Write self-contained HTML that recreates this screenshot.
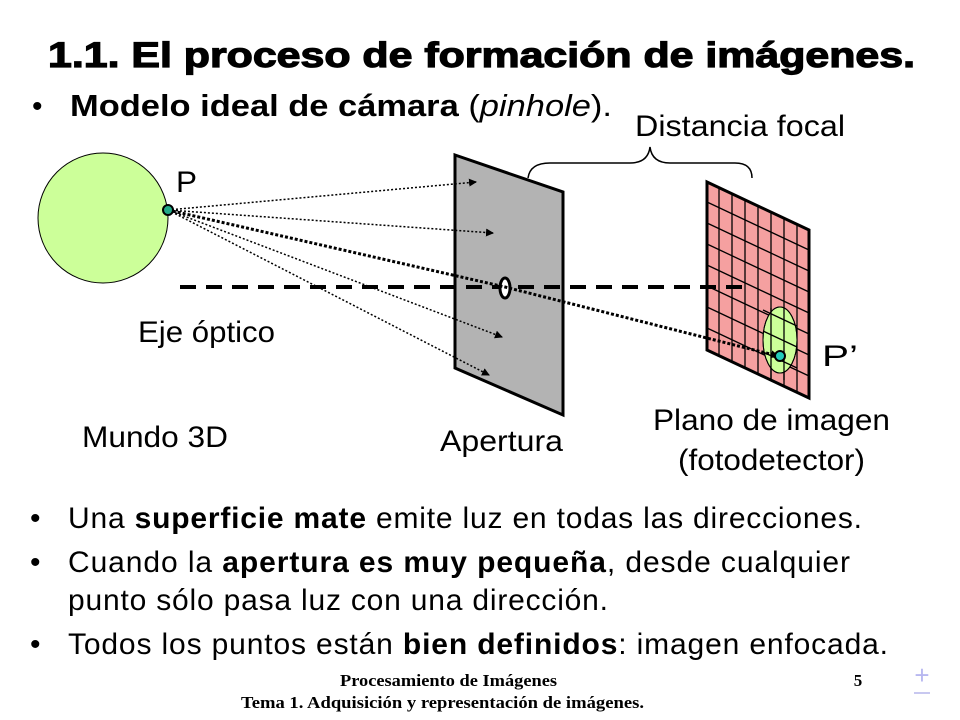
<!DOCTYPE html>
<html><head><meta charset="utf-8"><style>
html,body{margin:0;padding:0;background:#fff}
svg{display:block}
text{font-family:"Liberation Sans",sans-serif;fill:#000}
.s{font-family:"Liberation Serif",serif;font-weight:bold}
</style></head><body>
<svg width="960" height="720" viewBox="0 0 960 720" xmlns="http://www.w3.org/2000/svg">
<defs>
<marker id="a" markerWidth="8" markerHeight="8" refX="7" refY="4" orient="auto" markerUnits="userSpaceOnUse"><path d="M0,0 L8,4 L0,8 Z" fill="#000"/></marker>
<clipPath id="cp"><polygon points="707,182 809,230 809,398 707,350"/></clipPath>
</defs>
<text x="48" y="67" font-size="35" font-weight="bold" textLength="867" lengthAdjust="spacingAndGlyphs" stroke="#000" stroke-width="1.2">1.1. El proceso de formación de imágenes.</text>
<text x="32" y="116" font-size="30">•</text>
<text x="70" y="116" font-size="31" textLength="542" lengthAdjust="spacingAndGlyphs"><tspan font-weight="bold">Modelo ideal de cámara</tspan> (<tspan font-style="italic">pinhole</tspan>).</text>
<text x="635" y="136" font-size="30" textLength="210" lengthAdjust="spacingAndGlyphs">Distancia focal</text>
<path d="M528,178 Q530,163 550,163 L630,163 Q648,163 650,147 Q652,163 670,163 L735,163 Q752,163 752,178" fill="none" stroke="#000" stroke-width="1.5"/>
<circle cx="103" cy="218" r="65" fill="#ccff99" stroke="#000" stroke-width="1"/>
<text x="176" y="192" font-size="30" textLength="21" lengthAdjust="spacingAndGlyphs">P</text>
<polygon points="455,155 563,192 563,415 455,368" fill="#b3b3b3" stroke="#000" stroke-width="3"/>
<polygon points="707,182 809,230 809,398 707,350" fill="#f5a0a0"/>
<g clip-path="url(#cp)" stroke="#000" stroke-width="1.3">
<line x1="719" y1="150" x2="719" y2="420"/><line x1="732" y1="150" x2="732" y2="420"/><line x1="745" y1="150" x2="745" y2="420"/><line x1="758" y1="150" x2="758" y2="420"/><line x1="771" y1="150" x2="771" y2="420"/><line x1="784" y1="150" x2="784" y2="420"/><line x1="797" y1="150" x2="797" y2="420"/>
<line x1="707" y1="202" x2="809" y2="250"/><line x1="707" y1="223" x2="809" y2="271"/><line x1="707" y1="244" x2="809" y2="292"/><line x1="707" y1="265" x2="809" y2="313"/><line x1="707" y1="286" x2="809" y2="334"/><line x1="707" y1="307" x2="809" y2="355"/><line x1="707" y1="328" x2="809" y2="376"/>
</g>
<ellipse cx="780" cy="340" rx="17" ry="33" fill="#ccff99" stroke="#000" stroke-width="1"/>
<g clip-path="url(#cp)" stroke="#000" stroke-width="1.3"><line x1="771" y1="308" x2="771" y2="380"/><line x1="784" y1="308" x2="784" y2="380"/><line x1="763" y1="310" x2="797" y2="326"/><line x1="763" y1="331" x2="797" y2="347"/><line x1="763" y1="352" x2="797" y2="368"/></g>
<ellipse cx="780" cy="340" rx="17" ry="33" fill="none" stroke="#000" stroke-width="1"/>
<polygon points="707,182 809,230 809,398 707,350" fill="none" stroke="#000" stroke-width="3"/>
<line x1="180" y1="287" x2="750" y2="287" stroke="#000" stroke-width="4" stroke-dasharray="16,10"/>
<ellipse cx="505" cy="288" rx="5" ry="10" fill="#fff" stroke="#000" stroke-width="3"/>
<g stroke="#000" stroke-width="1.5" stroke-dasharray="2,2" fill="none">
<line x1="168" y1="210" x2="476" y2="182" marker-end="url(#a)"/>
<line x1="168" y1="210" x2="493" y2="233" marker-end="url(#a)"/>
<line x1="168" y1="210" x2="502" y2="337" marker-end="url(#a)"/>
<line x1="168" y1="210" x2="489" y2="375" marker-end="url(#a)"/>
</g>
<polyline points="168,210 505,287 778,356" fill="none" stroke="#000" stroke-width="3" stroke-dasharray="3,2" marker-end="url(#a)"/>
<circle cx="168" cy="210" r="5" fill="#2a8" stroke="#000" stroke-width="2"/>
<circle cx="780" cy="356" r="5" fill="#2cb" stroke="#000" stroke-width="2"/>
<text x="822" y="366" font-size="30" textLength="36" lengthAdjust="spacingAndGlyphs">P’</text>
<text x="138" y="342" font-size="30" textLength="137" lengthAdjust="spacingAndGlyphs">Eje óptico</text>
<text x="82" y="447" font-size="30" textLength="146" lengthAdjust="spacingAndGlyphs">Mundo 3D</text>
<text x="440" y="451" font-size="30" textLength="123" lengthAdjust="spacingAndGlyphs">Apertura</text>
<text x="653" y="430" font-size="30" textLength="237" lengthAdjust="spacingAndGlyphs">Plano de imagen</text>
<text x="678" y="470" font-size="30" textLength="187" lengthAdjust="spacingAndGlyphs">(fotodetector)</text>
<g font-size="30">
<text x="30" y="528">•</text><text x="68" y="528" textLength="794" lengthAdjust="spacing">Una <tspan font-weight="bold">superficie mate</tspan> emite luz en todas las direcciones.</text>
<text x="30" y="572">•</text><text x="68" y="572" textLength="782" lengthAdjust="spacing">Cuando la <tspan font-weight="bold">apertura es muy pequeña</tspan>, desde cualquier</text>
<text x="68" y="610" textLength="540" lengthAdjust="spacing">punto sólo pasa luz con una dirección.</text>
<text x="30" y="654">•</text><text x="68" y="654" textLength="820" lengthAdjust="spacing">Todos los puntos están <tspan font-weight="bold">bien definidos</tspan>: imagen enfocada.</text>
</g>
<text class="s" x="340" y="686" font-size="17" textLength="217" lengthAdjust="spacingAndGlyphs">Procesamiento de Imágenes</text>
<text class="s" x="241" y="708" font-size="17" textLength="403" lengthAdjust="spacingAndGlyphs">Tema 1. Adquisición y representación de imágenes.</text>
<text class="s" x="858" y="686" text-anchor="middle" font-size="17">5</text>
<text x="922" y="684" text-anchor="middle" font-size="26" style="fill:#b8b8f0">+</text>
<line x1="914" y1="693" x2="930" y2="693" stroke="#c8c8f0" stroke-width="2"/>
</svg>
</body></html>
